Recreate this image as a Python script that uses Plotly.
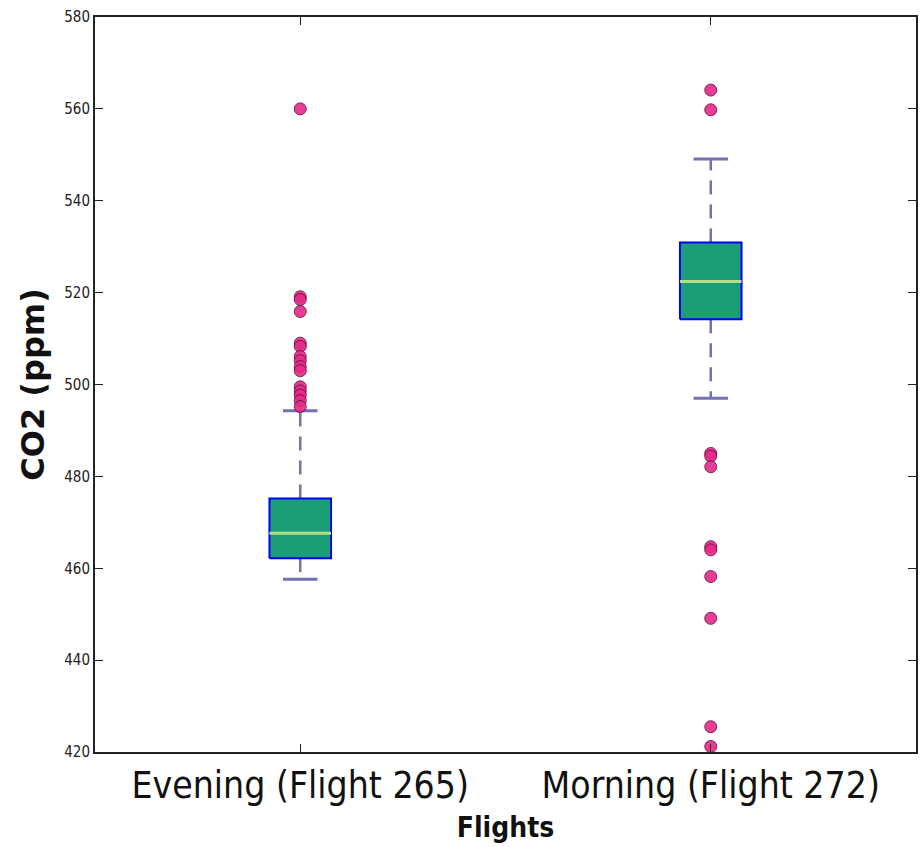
import plotly.graph_objects as go

# ---- data ----
categories = ["Evening (Flight 265)", "Morning (Flight 272)"]
positions = [1, 2]
q1 = [462.2, 514.2]
median = [467.6, 522.4]
q3 = [475.2, 530.9]
lower_whisker = [457.6, 497.0]
upper_whisker = [494.3, 549.1]
outliers_evening = [560.0, 519.1, 518.5, 515.9, 509.0, 508.3, 506.1, 505.2, 503.9, 503.0,
                    499.5, 498.6, 497.7, 496.5, 495.2]
outliers_morning = [564.1, 559.8, 485.0, 484.4, 482.1, 464.7, 464.0, 458.2, 449.1, 425.5, 421.2]
y_ticks = [420, 440, 460, 480, 500, 520, 540, 560, 580]

BOX_HALF = 0.075
CAP_HALF = 0.042

fig = go.Figure()

for i, pos in enumerate(positions):
    # whiskers (dashed)
    fig.add_trace(go.Scatter(x=[pos, pos], y=[q3[i], upper_whisker[i]], mode="lines",
                             line=dict(color="#7570b3", width=2.5, dash="14px,10px"),
                             showlegend=False, hoverinfo="skip"))
    fig.add_trace(go.Scatter(x=[pos, pos], y=[q1[i], lower_whisker[i]], mode="lines",
                             line=dict(color="#7570b3", width=2.5, dash="14px,10px"),
                             showlegend=False, hoverinfo="skip"))
    # caps
    for w in (upper_whisker[i], lower_whisker[i]):
        fig.add_trace(go.Scatter(x=[pos - CAP_HALF, pos + CAP_HALF], y=[w, w], mode="lines",
                                 line=dict(color="#7570b3", width=3),
                                 showlegend=False, hoverinfo="skip"))
    # box
    fig.add_trace(go.Scatter(x=[pos - BOX_HALF, pos + BOX_HALF, pos + BOX_HALF, pos - BOX_HALF, pos - BOX_HALF],
                             y=[q1[i], q1[i], q3[i], q3[i], q1[i]], mode="lines", fill="toself",
                             fillcolor="#1b9e77", line=dict(color="#0000ff", width=2),
                             showlegend=False, hoverinfo="skip"))
    # median
    fig.add_trace(go.Scatter(x=[pos - BOX_HALF, pos + BOX_HALF], y=[median[i], median[i]], mode="lines",
                             line=dict(color="#b2df8a", width=3),
                             showlegend=False, hoverinfo="skip"))

for pos, outs in zip(positions, [outliers_evening, outliers_morning]):
    fig.add_trace(go.Scatter(x=[pos] * len(outs), y=outs, mode="markers",
                             marker=dict(color="#e7298a", size=12, opacity=0.9,
                                         line=dict(color="#6b1040", width=1)),
                             showlegend=False, cliponaxis=True))

axis_common = dict(showline=True, linecolor="#222222", linewidth=2, mirror="ticks",
                   ticks="inside", tickcolor="#222222", showgrid=False, zeroline=False)

fig.update_layout(
    width=924, height=847,
    margin=dict(l=95, r=6, t=17, b=95),
    paper_bgcolor="white", plot_bgcolor="white",
    xaxis=dict(range=[0.5, 2.5], tickvals=positions, ticktext=categories, ticklen=8,
               tickfont=dict(family="DejaVu Sans Condensed, DejaVu Sans", size=37, color="#111"),
               title=dict(text="<b>Flights</b>", standoff=11,
                          font=dict(family="DejaVu Sans Condensed, DejaVu Sans", size=28, color="#111")),
               **axis_common),
    yaxis=dict(range=[420, 580], tickvals=y_ticks, ticklen=8,
               tickfont=dict(family="DejaVu Sans Condensed, DejaVu Sans", size=15, color="#222"),
               title=dict(text="<b>CO2 (ppm)</b>", standoff=10,
                          font=dict(family="DejaVu Sans", size=32, color="#111")),
               **axis_common),
)

fig.write_html("out.html")
